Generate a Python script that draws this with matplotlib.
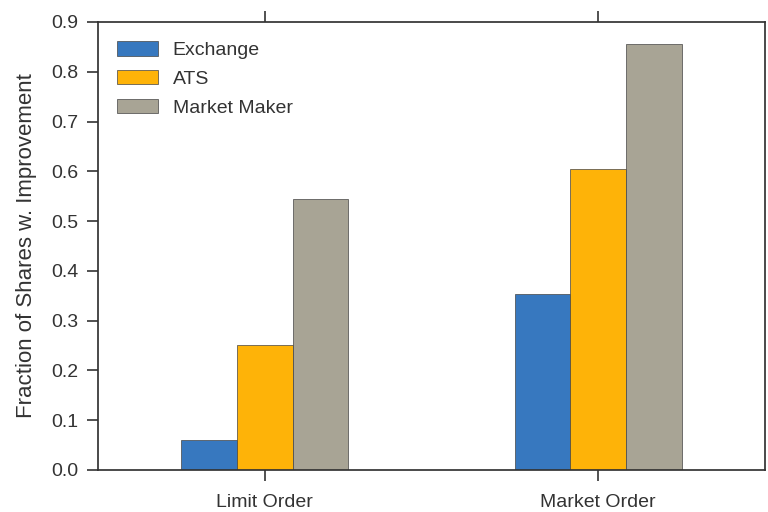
import matplotlib
matplotlib.use("Agg")
import matplotlib.pyplot as plt
import numpy as np

categories = ["Limit Order", "Market Order"]
series_names = ["Exchange", "ATS", "Market Maker"]
exchange = [0.06, 0.354]
ats = [0.251, 0.605]
market_maker = [0.545, 0.856]
colors = ["#3778bf", "#feb308", "#a8a495"]
yticks = [0.0, 0.1, 0.2, 0.3, 0.4, 0.5, 0.6, 0.7, 0.8, 0.9]

plt.rcParams['font.family'] = ['Liberation Sans', 'DejaVu Sans']
plt.rcParams['text.color'] = '#333333'
plt.rcParams['axes.labelcolor'] = '#333333'
plt.rcParams['xtick.color'] = '#333333'
plt.rcParams['ytick.color'] = '#333333'

fig = plt.figure(figsize=(7.68, 5.12), dpi=100)
ax = fig.add_axes([98/768, 42/512, 667/768, 448/512])

x = np.arange(len(categories))
w = 0.5 / 3
for i, (name, vals) in enumerate(zip(series_names, [exchange, ats, market_maker])):
    ax.bar(x + (i - 1) * w, vals, width=w, color=colors[i], edgecolor='#444444',
           linewidth=0.5, label=name)

ax.set_xlim(-0.5, 1.5)
ax.set_ylim(0, 0.9)
ax.set_xticks(x)
ax.set_xticklabels(categories)
ax.set_yticks(yticks)
ax.set_yticklabels([f"{v:.1f}" for v in yticks])
ax.set_ylabel("Fraction of Shares w. Improvement", fontsize=16, labelpad=10)
ax.tick_params(axis='both', labelsize=14, direction='out', length=8, width=1.2, colors='#333333')
ax.tick_params(axis='x', top=True, bottom=True, pad=9)
ax.tick_params(axis='y', left=True, right=False, pad=6)
for s in ax.spines.values():
    s.set_color('#333333')
    s.set_linewidth(1.25)

leg = ax.legend(loc='upper left', frameon=False, fontsize=14, handlelength=2.1,
                handleheight=0.75, labelspacing=0.55, handletextpad=0.75,
                borderaxespad=0.6)

fig.savefig("out.png", dpi=100)
